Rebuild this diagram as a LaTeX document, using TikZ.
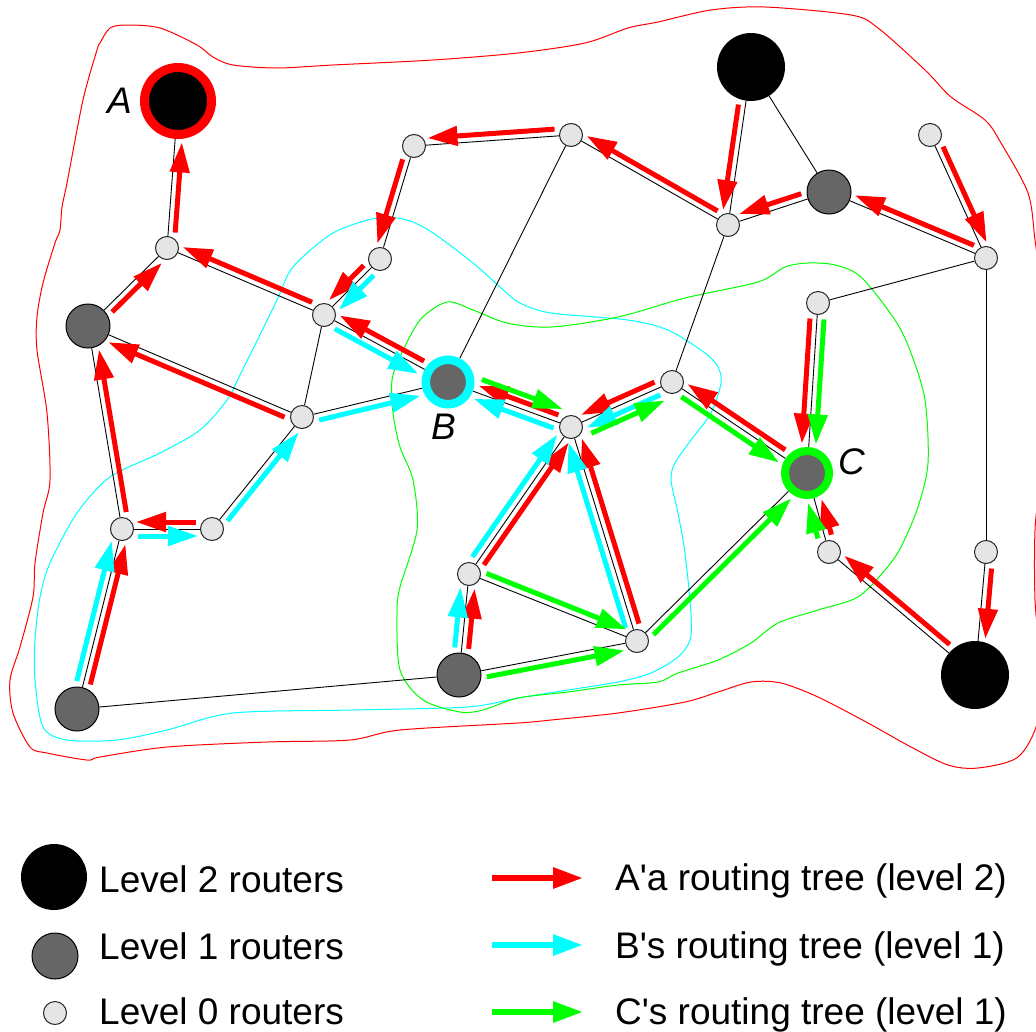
\documentclass[tikz,border=0pt]{standalone}
\usepackage{fontspec}
\setmainfont{Liberation Sans}
\usetikzlibrary{calc,arrows.meta}

\definecolor{treeR}{RGB}{255,0,0}
\definecolor{treeB}{RGB}{0,255,255}
\definecolor{treeC}{RGB}{0,255,0}
\definecolor{grayone}{RGB}{102,102,102}
\definecolor{grayzero}{RGB}{229,229,229}

\pgfdeclarelayer{zones}
\pgfdeclarelayer{links}
\pgfsetlayers{zones,links,main}

% \route[offset]{colour}{from}{to}{side r/l}{start gap}{end gap}
% draws a routing-tree arrow running beside the link from -> to
\newcommand{\route}[7][7]{%
  \if#5r\def\angA{-90}\def\angB{90}\else\def\angA{90}\def\angB{-90}\fi
  \draw[treearrow=#2, shorten <=#6pt, shorten >=#7pt]
    ($(#3)!#1pt!\angA:(#4)$) -- ($(#4)!#1pt!\angB:(#3)$);}

\begin{document}
\begin{tikzpicture}[x=1pt,y=-1pt,
  rtwo/.style={circle, fill=black, inner sep=0pt, minimum size=68pt},
  rone/.style={circle, fill=grayone, draw=black, line width=1pt, inner sep=0pt, minimum size=44pt},
  rzero/.style={circle, fill=grayzero, draw=black!85, line width=1pt, inner sep=0pt, minimum size=23pt},
  link/.style={draw=black, line width=0.9pt},
  zone/.style={line width=1pt},
  treearrow/.style={draw=#1, line width=5pt, -{Triangle[length=30pt,width=19pt]}},
  keyarrow/.style={draw=#1, line width=6pt, -{Triangle[length=30pt,width=20pt]}},
  txt/.style={inner sep=0pt, anchor=base west, font=\fontsize{37pt}{44pt}\selectfont},
  tag/.style={inner sep=0pt, anchor=base west, font=\fontsize{37pt}{44pt}\selectfont\itshape}]

\useasboundingbox (0,0) rectangle (1036,1031);

% ---- routers ----
\node[rtwo, draw=treeR, line width=9pt, minimum size=67pt] (A) at (178,101) {};
\node[rtwo] (T) at (751,67) {};
\node[rtwo] (R) at (975,675) {};
\node[rone] (P) at (88,326) {};
\node[rone] (Q) at (829,192) {};
\node[rone, draw=treeB, line width=8.5pt, minimum size=44.5pt] (B) at (448,382) {};
\node[rone, draw=treeC, line width=8pt, minimum size=44pt] (C) at (807,473) {};
\node[rone] (D) at (77,709) {};
\node[rone] (E) at (459,675) {};
\node[rzero] (a1) at (167,248) {};
\node[rzero] (a2) at (414,146) {};
\node[rzero] (a3) at (380,259) {};
\node[rzero] (a4) at (324,315) {};
\node[rzero] (a5) at (302,417) {};
\node[rzero] (a6) at (122,529) {};
\node[rzero] (a7) at (212,529) {};
\node[rzero] (a8) at (571,135) {};
\node[rzero] (a9) at (728,225) {};
\node[rzero] (a10) at (930,135) {};
\node[rzero] (a11) at (986,258) {};
\node[rzero] (a12) at (818,303) {};
\node[rzero] (a13) at (672,382) {};
\node[rzero] (a14) at (571,427) {};
\node[rzero] (a15) at (469,574) {};
\node[rzero] (a16) at (637,641) {};
\node[rzero] (a17) at (829,552) {};
\node[rzero] (a18) at (986,552) {};

\node[tag] (tA) at (107,113) {A};
\node[tag] (tB) at (431,439) {B};
\node[tag] (tC) at (838,474) {C};

% ---- areas of the three trees ----
\begin{pgfonlayer}{zones}
\draw[zone, treeR] plot[smooth cycle, tension=0.5] coordinates {
  (100,43) (110,28) (127,25) (160,28) (197,45) (213,57) (233,65) (277,68) (333,65)
  (433,60) (518,53) (585,43) (628,28) (658,22) (711,10) (765,7) (851,15) (878,28)
  (925,70) (951,97) (985,120) (1001,143) (1028,193) (1035,240) (1042,300) (1045,400)
  (1040,480) (1035,530) (1035,600) (1040,660) (1038,720) (1018,757) (978,768)
  (948,765) (911,747) (868,723) (818,697) (781,683) (751,682) (718,692) (685,702)
  (618,713) (551,720) (518,723) (400,730) (350,740) (267,742) (167,747) (100,757)
  (87,760) (47,753) (30,747) (13,713) (10,680) (20,647) (33,597) (35,563) (43,513)
  (50,480) (47,413) (37,350) (37,317) (43,283) (55,243) (60,230) (62,207) (67,183)
  (83,100) (97,50)};
\draw[zone, treeB] plot[smooth cycle, tension=0.5] coordinates {
  (377,218) (407,220) (433,233) (473,263) (500,287) (520,303) (551,313) (628,320)
  (668,330) (705,353) (718,367) (721,383) (711,413) (691,440) (675,463) (671,480)
  (678,513) (685,553) (691,613) (690,640) (678,657) (651,673) (618,682) (568,690)
  (518,698) (467,707) (353,710) (233,713) (167,730) (117,740) (67,740) (43,727)
  (35,680) (35,640) (40,597) (50,563) (77,513) (110,477) (160,453) (200,430)
  (227,400) (240,375) (255,345) (277,300) (293,267) (333,233)};
\draw[zone, treeC] plot[smooth cycle, tension=0.5] coordinates {
  (447,302) (473,310) (507,323) (551,327) (618,317) (685,298) (758,282) (785,267)
  (808,263) (835,265) (861,277) (895,320) (911,353) (925,400) (928,463) (918,507)
  (901,547) (885,570) (858,597) (818,610) (778,623) (751,643) (718,660) (678,673)
  (658,682) (618,685) (568,692) (518,698) (483,710) (460,712) (423,700) (400,670)
  (397,613) (400,587) (417,530) (413,480) (400,447) (393,413) (392,380) (400,357)
  (420,320)};
\end{pgfonlayer}

\begin{pgfonlayer}{links}
% ---- links ----
\draw[link] (A) -- (a1);
\draw[link] (a1) -- (P);
\draw[link] (a1) -- (a4);
\draw[link] (a2) -- (a8);
\draw[link] (a2) -- (a3);
\draw[link] (a3) -- (a4);
\draw[link] (a4) -- (a5);
\draw[link] (a4) -- (B);
\draw[link] (P) -- (a5);
\draw[link] (P) -- (a6);
\draw[link] (a6) -- (a7);
\draw[link] (a7) -- (a5);
\draw[link] (a5) -- (B);
\draw[link] (a6) -- (D);
\draw[link] (D) -- (E);
\draw[link] (B) -- (a8);
\draw[link] (B) -- (a14);
\draw[link] (a8) -- (a9);
\draw[link] (a9) -- (T);
\draw[link] (a9) -- (Q);
\draw[link] (T) -- (Q);
\draw[link] (Q) -- (a11);
\draw[link] (a10) -- (a11);
\draw[link] (a11) -- (a12);
\draw[link] (a11) -- (a18);
\draw[link] (a18) -- (R);
\draw[link] (a9) -- (a13);
\draw[link] (a13) -- (a14);
\draw[link] (a13) -- (C);
\draw[link] (a12) -- (C);
\draw[link] (a14) -- (a15);
\draw[link] (a14) -- (a16);
\draw[link] (a15) -- (a16);
\draw[link] (a15) -- (E);
\draw[link] (E) -- (a16);
\draw[link] (a16) -- (C);
\draw[link] (C) -- (a17);
\draw[link] (a17) -- (R);

% ---- A's routing tree ----
\route{treeR}{a1}{A}{r}{16}{41}
\route{treeR}{P}{a1}{r}{27}{14}
\route{treeR}{a4}{a1}{r}{16}{14}
\route{treeR}{B}{a4}{r}{31}{14}
\route{treeR}{a5}{P}{l}{16}{25}
\route{treeR}{a6}{P}{r}{16}{25}
\route{treeR}{a7}{a6}{r}{16}{14}
\route{treeR}{D}{a6}{r}{27}{14}
\route{treeR}{a2}{a3}{r}{16}{14}
\route{treeR}{a3}{a4}{r}{16}{14}
\route{treeR}{a8}{a2}{r}{16}{14}
\route{treeR}{a9}{a8}{r}{16}{14}
\route{treeR}{T}{a9}{r}{39}{14}
\route{treeR}{Q}{a9}{r}{27}{14}
\route{treeR}{a11}{Q}{r}{16}{25}
\route{treeR}{a10}{a11}{l}{16}{14}
\route{treeR}{a14}{B}{r}{16}{30}
\route{treeR}{a13}{a14}{r}{16}{14}
\route{treeR}{C}{a13}{r}{31}{14}
\route{treeR}{a12}{C}{r}{16}{29}
\route{treeR}{a17}{C}{r}{16}{29}
\route{treeR}{R}{a17}{r}{39}{14}
\route{treeR}{a18}{R}{l}{16}{37}
\route{treeR}{a15}{a14}{r}{16}{14}
\route{treeR}{a16}{a14}{r}{16}{14}
\route{treeR}{E}{a15}{r}{27}{14}

% ---- B's routing tree ----
\route{treeB}{a4}{B}{r}{16}{30}
\route{treeB}{a3}{a4}{l}{16}{14}
\route{treeB}{a5}{B}{r}{16}{30}
\route{treeB}{a7}{a5}{r}{16}{14}
\route{treeB}{a6}{a7}{r}{16}{14}
\route{treeB}{D}{a6}{l}{27}{14}
\route{treeB}{a14}{B}{l}{16}{30}
\route{treeB}{a13}{a14}{l}{16}{14}
\route{treeB}{a15}{a14}{l}{16}{14}
\route{treeB}{a16}{a14}{l}{16}{14}
\route{treeB}{E}{a15}{l}{27}{14}

% ---- C's routing tree ----
\route[14]{treeC}{B}{a14}{l}{31}{14}
\route[14]{treeC}{a14}{a13}{r}{16}{14}
\route{treeC}{a13}{C}{r}{16}{29}
\route{treeC}{a12}{C}{l}{16}{29}
\route{treeC}{a17}{C}{l}{16}{29}
\route{treeC}{a16}{C}{r}{16}{29}
\route{treeC}{a15}{a16}{l}{16}{14}
\route{treeC}{E}{a16}{r}{27}{14}
\end{pgfonlayer}

% ---- legend ----
\node[rtwo, minimum size=66pt] (k2) at (54,877) {};
\node[rone, minimum size=46pt] (k1) at (55,956) {};
\node[rzero] (k0) at (55,1013) {};
\node[txt] (k2t) at (99,892) {Level 2 routers};
\node[txt] (k1t) at (99,959) {Level 1 routers};
\node[txt] (k0t) at (99,1024) {Level 0 routers};

\coordinate (kRs) at (492,878);  \coordinate (kRe) at (583,878);
\coordinate (kBs) at (492,945);  \coordinate (kBe) at (583,945);
\coordinate (kCs) at (492,1012); \coordinate (kCe) at (583,1012);
\draw[keyarrow=treeR] (kRs) -- (kRe);
\draw[keyarrow=treeB] (kBs) -- (kBe);
\draw[keyarrow=treeC] (kCs) -- (kCe);
\node[txt] (kRt) at (615,890) {A\textquotesingle a routing tree (level 2)};
\node[txt] (kBt) at (615,958) {B\textquotesingle s routing tree (level 1)};
\node[txt] (kCt) at (615,1024) {C\textquotesingle s routing tree (level 1)};
\end{tikzpicture}
\end{document}
